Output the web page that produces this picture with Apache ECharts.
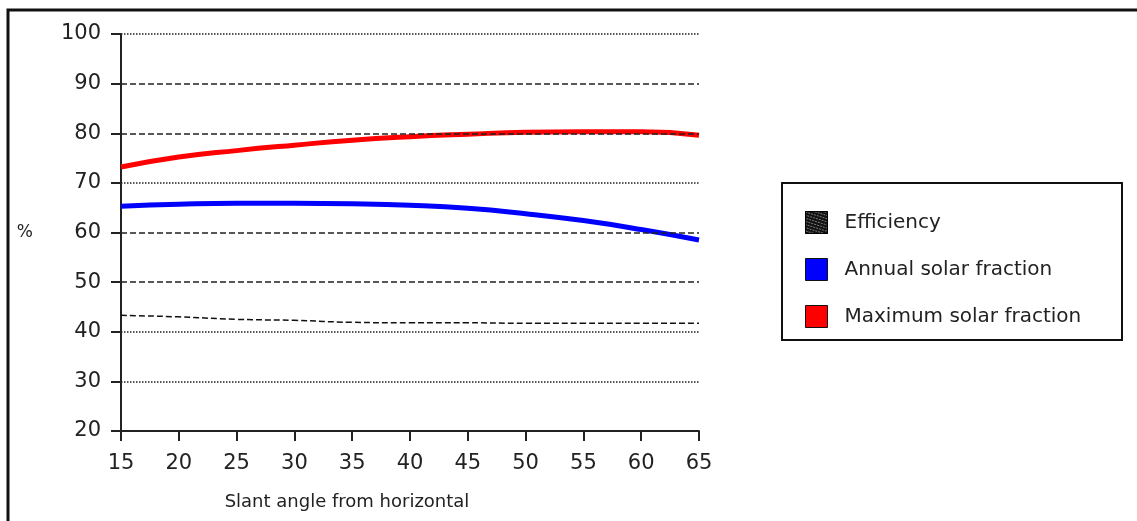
<!DOCTYPE html>
<html><head><meta charset="utf-8">
<script src="https://cdn.jsdelivr.net/npm/echarts@6/dist/echarts.min.js"></script>
<style>html,body{margin:0;padding:0;background:#fff}#c{width:1137px;height:521px}</style>
</head><body><div id="c"></div>
<script>
const angles = [15,20,25,30,35,40,45,50,55,60,65];
const efficiency = [43.3,43.0,42.5,42.3,41.9,41.8,41.8,41.7,41.7,41.7,41.7];
const annualSolar = [65.3,65.7,65.9,65.9,65.8,65.5,64.9,63.8,62.4,60.6,58.5];
const maxSolar = [73.2,75.2,76.5,77.6,78.6,79.3,79.8,80.2,80.3,80.3,79.6];
const gridValues = [100,90,80,70,60,50,40,30];
const gridTypes = ['dotted','dashed','dashed','dotted','dashed','dashed','dotted','dotted'];
const seriesNames = ['Efficiency','Annual solar fraction','Maximum solar fraction'];

const font = 'DejaVu Sans';
const chart = echarts.init(document.getElementById('c'));
const pair = arr => angles.map((a,i)=>[a,arr[i]]);
chart.setOption({
  animation:false,
  textStyle:{fontFamily:font},
  grid:{left:121,right:438,top:34,bottom:90},
  xAxis:{type:'value',min:15,max:65,interval:5,
    name:'Slant angle from horizontal',nameLocation:'middle',nameGap:62,
    nameTextStyle:{fontSize:18,color:'#222',padding:[0,0,0,-126]},
    axisLine:{lineStyle:{color:'#222',width:2}},
    axisTick:{length:10,lineStyle:{color:'#222',width:2}},
    axisLabel:{fontSize:21,color:'#222',margin:22},
    splitLine:{show:false}},
  yAxis:{type:'value',min:20,max:100,interval:10,
    name:'%',nameLocation:'middle',nameGap:88,nameRotate:0,
    nameTextStyle:{fontSize:17,color:'#222'},
    axisLine:{show:true,lineStyle:{color:'#222',width:2}},
    axisTick:{show:true,length:10,lineStyle:{color:'#222',width:2}},
    axisLabel:{fontSize:21,color:'#222',margin:20},
    splitLine:{show:false}},
  legend:{show:true,orient:'vertical',left:800,top:206,itemWidth:22,itemHeight:22,itemGap:24,
    textStyle:{fontSize:20,color:'#222',padding:[0,0,0,12]},
    data:[
      {name:seriesNames[0],icon:'rect',itemStyle:{color:'#111',borderColor:'#000',borderWidth:1,decal:{symbol:'rect',color:'#777',dashArrayX:[2,1],dashArrayY:[1,2],rotation:0.3}}},
      {name:seriesNames[1],icon:'rect',itemStyle:{color:'#0000ff',borderColor:'#111',borderWidth:1}},
      {name:seriesNames[2],icon:'rect',itemStyle:{color:'#ff0000',borderColor:'#111',borderWidth:1}}
    ]},
  graphic:[
    {type:'rect',shape:{x:8,y:10,width:1140,height:530},style:{fill:'none',stroke:'#111',lineWidth:3},silent:true},
    {type:'rect',shape:{x:782,y:183,width:340,height:157},style:{fill:'none',stroke:'#111',lineWidth:2},silent:true}
  ],
  series:[
    {name:'grid',type:'line',data:[],silent:true,
     markLine:{symbol:'none',silent:true,label:{show:false},
       data:gridValues.map((v,i)=>({yAxis:v,lineStyle:{type:gridTypes[i],color:'#222',width:1.5}}))}},
    {name:seriesNames[0],type:'line',data:pair(efficiency),showSymbol:false,smooth:true,
     lineStyle:{color:'#111',width:1.5,type:'dashed'},itemStyle:{color:'#111'}},
    {name:seriesNames[1],type:'line',data:pair(annualSolar),showSymbol:false,smooth:true,
     lineStyle:{color:'#0000ff',width:5},itemStyle:{color:'#0000ff'}},
    {name:seriesNames[2],type:'line',data:pair(maxSolar),showSymbol:false,smooth:true,
     lineStyle:{color:'#ff0000',width:5},itemStyle:{color:'#ff0000'}}
  ]
});
</script></body></html>
